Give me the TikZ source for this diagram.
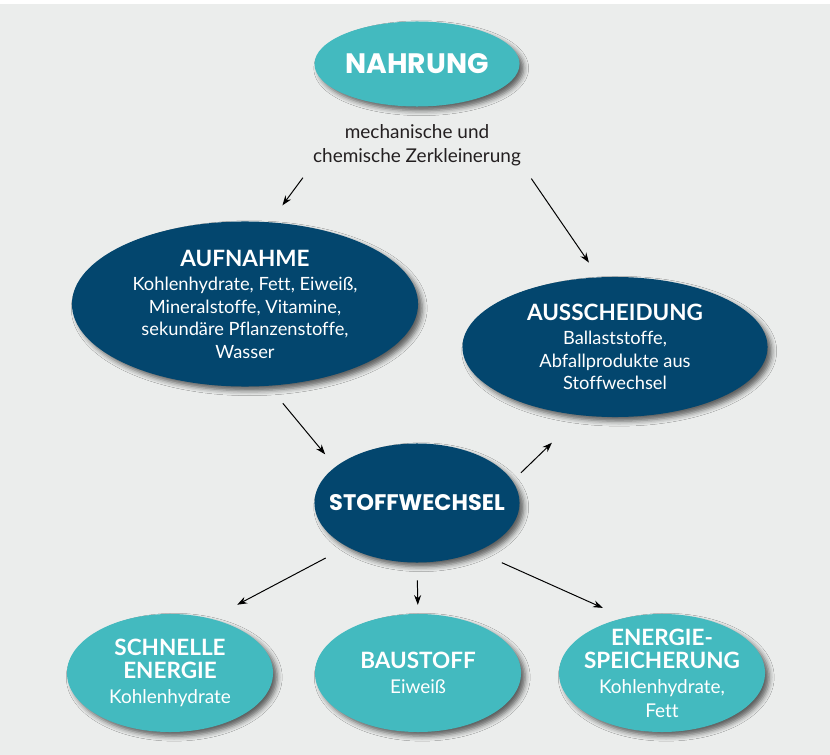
\documentclass[tikz,border=0pt]{standalone}
\usepackage{fontspec}
\setmainfont{Lato}[Ligatures=NoCommon]
\newfontfamily\popfont{Poppins}
\usetikzlibrary{arrows.meta, shapes.geometric, shadows.blur}
\definecolor{cPanel}{HTML}{EBEDEC}
\definecolor{cNavy}{HTML}{03466E}
\definecolor{cTeal}{HTML}{43BABF}
\definecolor{cInk}{HTML}{231F20}

\newcommand{\headfont}{\bfseries\fontsize{16}{16}\selectfont}
\newcommand{\bodyfont}{\fontsize{13}{16}\selectfont}
\newcommand{\bodyfontL}{\fontsize{13.5}{16.5}\selectfont}

\begin{document}
\begin{tikzpicture}[x=0.025cm, y=-0.025cm,
    >=Stealth,
    oval/.style={
        ellipse, fill=#1, inner sep=0pt,
        blur shadow={shadow xshift=3pt, shadow yshift=-3pt,
                     shadow blur radius=3.5pt, shadow opacity=60}
    },
    navyoval/.style={oval=cNavy},
    tealoval/.style={oval=cTeal, minimum width=5.15cm, minimum height=2.95cm},
    intext/.style={text=white, align=center, font=\bodyfont},
    intextL/.style={text=white, align=center, font=\bodyfontL},
    bigtitle/.style={text=white, font=\popfont\bfseries\fontsize{#1}{#1}\selectfont},
    arr/.style={-{Stealth[length=7pt, width=5pt]}, line width=0.7pt, color=black},
]
\useasboundingbox (0,0) rectangle (830,755);
\fill[white] (0,0) rectangle (830,755);
\fill[cPanel] (0,4) rectangle (830,755);

% Top – Nahrung
\node[oval=cTeal, minimum width=5.125cm, minimum height=2.125cm,
      label={[bigtitle=20]center:NAHRUNG}] (nahrung) at (417,64) {};
\node[text=cInk, align=center, font=\fontsize{13.5}{17}\selectfont] (zerkl) at (417,145)
    {mechanische und\\chemische Zerkleinerung};

% Middle – Aufnahme / Ausscheidung
\node[navyoval, minimum width=8.65cm, minimum height=4.125cm,
      label={[intext]center:{{\headfont AUFNAHME}\\[1.5pt]Kohlenhydrate, Fett, Eiweiß,\\
             Mineralstoffe, Vitamine,\\sekundäre Pflanzenstoffe,\\Wasser}}] (aufn) at (245,304) {};
\node[navyoval, minimum width=7.625cm, minimum height=3.5cm,
      label={[intext]center:{{\headfont AUSSCHEIDUNG}\\[1pt]Ballaststoffe,\\
             Abfallprodukte aus\\Stoffwechsel}}] (aussch) at (615,347) {};

% Stoffwechsel
\node[navyoval, minimum width=5.125cm, minimum height=2.975cm,
      label={[bigtitle=16]center:STOFFWECHSEL}] (stoff) at (417,503) {};

% Bottom row
\node[tealoval, label={[intextL]center:{{\headfont SCHNELLE}\\{\headfont ENERGIE}\\[1.5pt]Kohlenhydrate}}]
    (schnell) at (170,673) {};
\node[tealoval, label={[intextL]center:{{\headfont BAUSTOFF}\\[1.5pt]Eiweiß}}]
    (baustoff) at (418,673) {};
\node[tealoval, label={[intextL]center:{{\headfont ENERGIE-}\\{\headfont SPEICHERUNG}\\[1.5pt]Kohlenhydrate,\\Fett}}]
    (speicher) at (662,673) {};

% Arrows
\draw[arr, shorten <=0.22cm, shorten >=0.52cm] (zerkl.south west) -- (aufn.73);
\draw[arr, shorten <=0.24cm, shorten >=0.44cm] (zerkl.south east) -- (aussch.103);
\draw[arr, shorten <=0.56cm, shorten >=0.4cm]  (aufn.286.4) -- (stoff.156.5);
\draw[arr, shorten <=0.29cm, shorten >=0.98cm] (stoff.13.7) -- (aussch.243);
\draw[arr, shorten <=0.6cm,  shorten >=0.74cm] (stoff.212) -- (schnell.53);
\draw[arr, shorten <=0.44cm, shorten >=0.22cm] (stoff.south) -- (baustoff.north);
\draw[arr, shorten <=0.68cm, shorten >=0.6cm]  (stoff.321.6) -- (speicher.124);

\end{tikzpicture}
\end{document}
